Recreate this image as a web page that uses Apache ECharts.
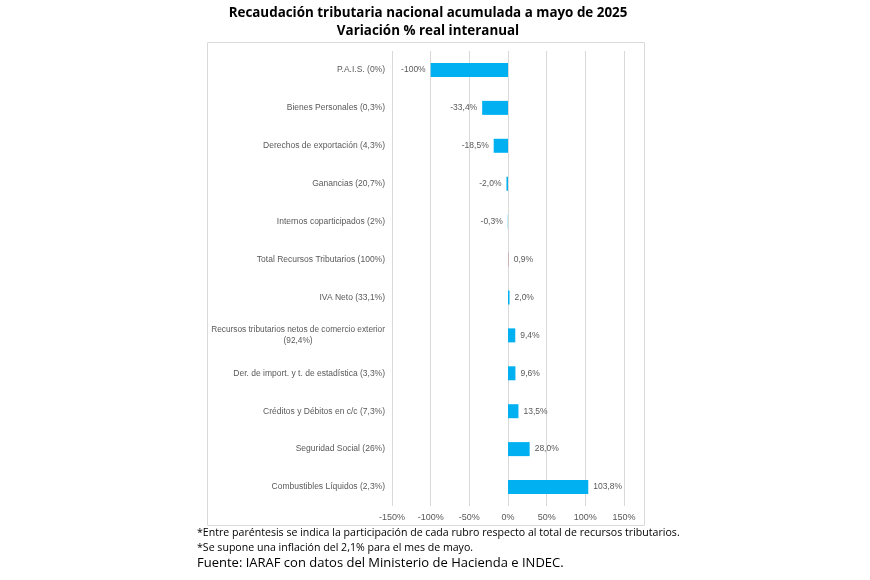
<!DOCTYPE html>
<html><head><meta charset="utf-8">
<script src="https://cdn.jsdelivr.net/npm/echarts@6/dist/echarts.min.js"></script>
<style>html,body{margin:0;padding:0;background:#fff}#c{width:870px;height:580px}</style>
</head><body><div id="c"></div>
<script>
var categories = [
  "P.A.I.S. (0%)",
  "Bienes Personales (0,3%)",
  "Derechos de exportación (4,3%)",
  "Ganancias (20,7%)",
  "Internos coparticipados (2%)",
  "Total Recursos Tributarios (100%)",
  "IVA Neto (33,1%)",
  "Recursos tributarios netos de comercio exterior|(92,4%)",
  "Der. de import. y t. de estadística (3,3%)",
  "Créditos y Débitos en c/c (7,3%)",
  "Seguridad Social (26%)",
  "Combustibles Líquidos (2,3%)"
];
var values = [-100, -33.4, -18.5, -2.0, -0.3, 0.9, 2.0, 9.4, 9.6, 13.5, 28.0, 103.8];
var valueLabels = ["-100%", "-33,4%", "-18,5%", "-2,0%", "-0,3%", "0,9%", "2,0%", "9,4%", "9,6%", "13,5%", "28,0%", "103,8%"];
var highlightCategory = "Total Recursos Tributarios (100%)";
var xTicks = [-150, -100, -50, 0, 50, 100, 150];
var titleLines = ["Recaudación tributaria nacional acumulada a mayo de 2025", "Variación % real interanual"];
var notes = [
  "*Entre paréntesis se indica la participación de cada rubro respecto al total de recursos tributarios.",
  "*Se supone una inflación del 2,1% para el mes de mayo."
];
var source = "Fuente: IARAF con datos del Ministerio de Hacienda e INDEC.";

var chart = echarts.init(document.getElementById('c'));
var data = values.map(function (v, i) {
  return {
    value: v,
    itemStyle: { color: categories[i] === highlightCategory ? '#C9A5A5' : '#00B0F0' },
    label: { position: v < 0 ? 'left' : 'right' }
  };
});
chart.setOption({
  animation: false,
  graphic: [
    { type: 'rect', shape: { x: 207.5, y: 42.5, width: 437, height: 483 },
      style: { fill: 'none', stroke: '#D9D9D9', lineWidth: 1 }, z: -1 },
    { type: 'text', x: 428, y: 13, style: { text: titleLines[0], font: 'bold 13.4px "Open Sans"', fill: '#000', align: 'center', verticalAlign: 'middle' } },
    { type: 'text', x: 428, y: 31, style: { text: titleLines[1], font: 'bold 13.4px "Open Sans"', fill: '#000', align: 'center', verticalAlign: 'middle' } },
    { type: 'text', left: 197, top: 527, style: { text: notes[0], font: '10.6px "Open Sans"', fill: '#000' } },
    { type: 'text', left: 197, top: 542, style: { text: notes[1], font: '10.6px "Open Sans"', fill: '#000' } },
    { type: 'text', left: 197, top: 557, style: { text: source, font: '13px "Open Sans"', fill: '#000' } }
  ],
  grid: { left: 392, right: 246, top: 51, bottom: 74, containLabel: false },
  xAxis: {
    type: 'value', min: -150, max: 150, interval: 50,
    axisLine: { show: false }, axisTick: { show: false },
    splitLine: { lineStyle: { color: '#D9D9D9' } },
    axisLabel: {
      color: '#595959', fontSize: 9, fontFamily: 'Arial', margin: 7,
      formatter: function (v) { return xTicks.indexOf(v) >= 0 ? v + '%' : ''; }
    }
  },
  yAxis: {
    type: 'category', inverse: true, data: categories,
    axisLine: { show: false }, axisTick: { show: false },
    axisLabel: {
      color: '#595959', fontSize: 8.5, fontFamily: 'Arial', margin: 7,
      formatter: function (v) {
        if (v.indexOf('|') >= 0) {
          var p = v.split('|');
          return '{a|' + p[0] + '}\n{b|' + p[1] + '}';
        }
        return v;
      },
      rich: {
        a: { color: '#595959', fontSize: 8.3, fontFamily: 'Arial', lineHeight: 11 },
        b: { color: '#595959', fontSize: 8.3, fontFamily: 'Arial', lineHeight: 11, width: 170, align: 'center' }
      }
    }
  },
  series: [{
    type: 'bar', data: data, barWidth: 14,
    label: {
      show: true, color: '#595959', fontSize: 8.5, fontFamily: 'Arial', distance: 5,
      formatter: function (p) { return valueLabels[p.dataIndex]; }
    }
  }]
});
</script></body></html>
